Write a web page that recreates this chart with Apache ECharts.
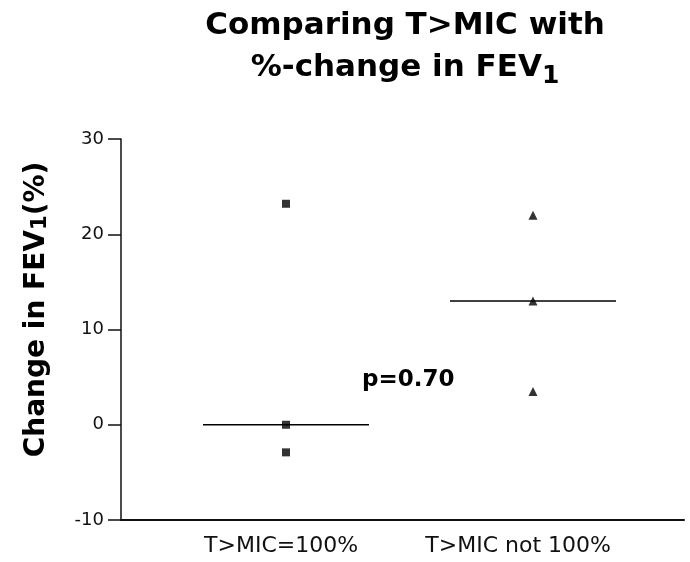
<!DOCTYPE html>
<html>
<head>
<meta charset="utf-8">
<script src="https://cdn.jsdelivr.net/npm/echarts@6/dist/echarts.min.js"></script>
<style>
html,body{margin:0;padding:0;background:#fff;}
#main{width:690px;height:562px;}
</style>
</head>
<body>
<div id="main"></div>
<script>
// groups on the x axis (1 and 2)
var groups=['T>MIC=100%','T>MIC not 100%'];
var groupPos=[1,2];
// individual values, % change in FEV1
var fullValues=[23.2,0,-2.9];
var notFullValues=[22,13,3.5];
// medians drawn as horizontal bars
var medians=[0,13];
var yTicks=[-10,0,10,20,30];
var pText='p=0.70';

var FONT='DejaVu Sans';
var HALF=0.336;          // half width of median bar (x units)
var LABEL_SHIFT=[-0.02,-0.06];

function pts(pos,vals){
	var out=[];
	for(var i=0;i<vals.length;i++){
		out.push([pos,vals[i]]);
	}
	return out;
}
function medianLine(i){
	return {
		type:'line',
		data:[[groupPos[i]-HALF,medians[i]],[groupPos[i]+HALF,medians[i]]],
		symbol:'none',
		lineStyle:{color:'#000',width:1.5},
		silent:true,
		z:1
	};
}

var chart=echarts.init(document.getElementById('main'));
var option={
	backgroundColor:'#ffffff',
	animation:false,
	title:{
		text:'Comparing T>MIC with\n%-change in FEV{sub|1}',
		left:400,
		top:0,
		textAlign:'center',
		textStyle:{
			fontFamily:FONT,fontSize:31,fontWeight:'bold',color:'#000',lineHeight:42,
			rich:{
				sub:{fontFamily:FONT,fontSize:25,fontWeight:'bold',color:'#000',lineHeight:24,verticalAlign:'bottom'}
			}
		}
	},
	grid:{left:121,right:6,top:139,bottom:42},
	xAxis:{
		type:'value',
		min:1-(286-121)/247,
		max:1-(286-121)/247+(684-121)/247,
		axisLine:{onZero:false,lineStyle:{color:'#111',width:2}},
		axisTick:{show:false},
		splitLine:{show:false},
		axisLabel:{
			customValues:[groupPos[0]+LABEL_SHIFT[0],groupPos[1]+LABEL_SHIFT[1]],
			formatter:function(v){
				return v<1.5?groups[0]:groups[1];
			},
			fontFamily:FONT,fontSize:22,color:'#111',margin:15
		}
	},
	yAxis:{
		type:'value',
		min:yTicks[0],
		max:yTicks[yTicks.length-1],
		interval:10,
		name:'Change in FEV{sub|1}(%)',
		nameLocation:'middle',
		nameGap:70,
		nameTextStyle:{
			fontFamily:FONT,fontSize:28,fontWeight:'bold',color:'#000',
			padding:[0,0,0,40],
			rich:{
				sub:{fontFamily:FONT,fontSize:21,fontWeight:'bold',color:'#000',lineHeight:21,verticalAlign:'bottom'}
			}
		},
		axisLine:{show:true,onZero:false,lineStyle:{color:'#111',width:1.5}},
		axisTick:{show:true,length:13,lineStyle:{color:'#111',width:1.5}},
		splitLine:{show:false},
		axisLabel:{fontFamily:FONT,fontSize:18,color:'#111',margin:17}
	},
	graphic:[
		{
			type:'text',
			left:362,
			top:369,
			style:{text:pText,font:'bold 23px "DejaVu Sans"',fill:'#000'}
		}
	],
	series:[
		{
			type:'scatter',
			data:pts(groupPos[0],fullValues),
			symbol:'rect',
			symbolSize:8,
			itemStyle:{color:'#000'},
			z:3
		},
		{
			type:'scatter',
			data:pts(groupPos[1],notFullValues),
			symbol:'triangle',
			symbolSize:9,
			itemStyle:{color:'#000'},
			z:3
		},
		medianLine(0),
		medianLine(1)
	]
};
chart.setOption(option);
</script>
</body>
</html>
